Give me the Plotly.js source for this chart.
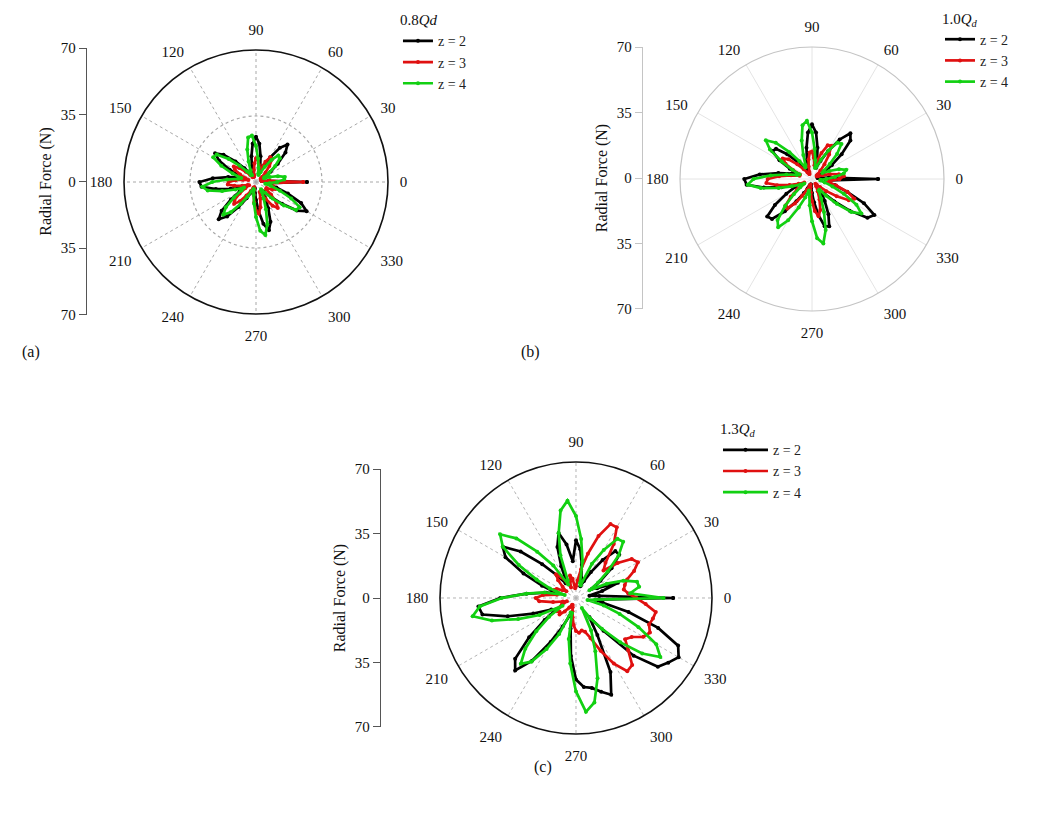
<!DOCTYPE html>
<html><head><meta charset="utf-8">
<script src="https://cdn.plot.ly/plotly-3.0.1.min.js"></script>
<style>html,body{margin:0;padding:0;background:#fff}#chart{width:1038px;height:822px}</style>
</head><body><div id="chart"></div>
<script>
// ---------- data ----------
const thetaDeg = [0,5,10,15,20,25,30,35,40,45,50,55,60,65,70,75,80,85,90,95,100,105,110,115,120,125,130,135,140,145,150,155,160,165,170,175,180,185,190,195,200,205,210,215,220,225,230,235,240,245,250,255,260,265,270,275,280,285,290,295,300,305,310,315,320,325,330,335,340,345,350,355];
const angularTicks = [0,30,60,90,120,150,180,210,240,270,300,330];
const sideTickVals = [-70,-35,0,35,70];
const sideTickText = ['70','35','0','35','70'];
const seriesNames = ['z = 2','z = 3','z = 4'];
const panelTitles = ['0.8<i>Qd</i>','1.0<i>Q<sub>d</sub></i>','1.3<i>Q<sub>d</sub></i>'];
const panelLabels = ['(a)','(b)','(c)'];
const sideTitle = 'Radial Force (N)';

// panel (a) 0.8Qd
const a_z2 = [27,7,3,3,3,4,5.7,9.4,15.1,22.1,26,22.1,15.1,9.4,5.7,8.6,13.9,20.4,24,20.4,13.9,8.6,5.3,3.4,3.7,5.8,9.5,15.4,22.5,26.5,22.5,15.4,9.5,9.3,15,23,30,29,21.6,14,8.7,6.2,10,16.2,23.8,28,23.8,16.2,10,6.2,3.9,3,3.7,5.8,9.5,15.4,22.5,26.5,22.5,15.4,9.5,5.8,6.8,11.2,18,26.4,31,26.4,18,11.2,6.8,7];
const a_z3 = [25,7,3,3,3,3,3,3,4.2,7.1,11,14.8,15.2,11.8,7.7,5.9,9.1,12.2,12.6,9.8,6.4,3.9,3,3,3,3,4.8,7.7,11.6,14.4,13,9.3,5.8,4.2,7,10.9,14.6,15,11.6,7.6,4.7,4,6.6,10.6,15,16.4,13.3,8.8,5.5,3.3,3,4.1,6.8,10.9,15.3,16.8,13.6,9,5.6,6.5,10.4,15.3,18,15.3,10.4,6.5,6.4,9.4,11,9.4,6.4,7];
const a_z4 = [11.2,15,15.5,12,7.8,4.8,5.1,8.6,13.3,17.9,18.4,14.3,9.3,5.7,4,4.6,7.7,12.5,19.1,24.7,24,17.9,11.5,6.9,4.3,4.6,7.3,12.2,18.9,25.4,26.2,20.3,13.2,8.1,9.6,15.4,23.2,28.6,26,18.6,11.6,7,8.9,14.3,20.9,24.6,20.9,14.3,8.9,5.4,4,4.4,7,11.6,18.6,26,28.6,23.2,15.4,9.6,5.8,4.7,7.4,12.4,19.3,25.9,26.7,20.6,13.5,8.3,5,7.2];

// panel (b) 1.0Qd
const b_z2 = [35,9,3,3,3.2,4.8,7.7,12.8,20.5,28.8,31.7,25.6,17,10.6,6.4,10.4,16.8,24.7,29,24.7,16.8,10.4,6.4,4.1,4.5,7.2,11.9,18.6,24.9,25.7,19.9,13,8,11.1,18.1,27.8,35.9,34.8,25.9,16.7,10,9.6,15.7,24,31,30,22.4,14.4,8.6,5.4,3.5,3,3,4.7,7.4,12.4,19.3,25.9,26.7,20.6,13.5,8.3,10.1,16.8,26.1,35.9,38.2,30.4,19.9,12.5,7.4,9];
const b_z3 = [14.5,17,14.5,9.9,6.1,3.7,3,3,3.8,6.3,10.3,15.8,20.4,19.7,14.7,9.5,7.4,11.3,14.6,14.1,10.5,6.8,4,3,3,4.2,6.8,11,16.2,19,16.2,11,6.8,6.8,11.3,17.5,23.5,24.3,18.8,12.3,7.5,4.5,5.7,9.5,14.7,19.7,20.4,15.8,10.3,6.3,3.8,3,4.4,7.2,11.6,17,20,17,11.6,7.2,4.4,3,3.8,6,10,16,22.5,24.8,20,13.3,8.3,9.9];
const b_z4 = [7.6,12.2,17.1,18.8,15.2,10.1,6.3,7.5,12.3,18.8,24.3,23.5,17.5,11.3,6.8,6,10.1,16.1,24.6,31,29,21.1,13.5,8.2,7,11.5,18.6,27.2,32,27.2,18.6,11.5,7,8.3,13.8,22,31,34.2,27.6,18.3,11.4,6.9,4.7,7.6,12.6,20.2,28.4,31.3,25.3,16.7,10.4,6.3,8.4,14,22.4,31.5,34.7,28,18.6,11.6,7,7,11.5,18.6,27.2,32,27.2,18.6,11.5,7,4.5,4.6];

// panel (c) 1.3Qd
const c_z2 = [50,12,7,14,23,12,9.5,15.4,23.9,31.5,31.5,23.9,15.4,9.5,6.5,10.7,17.2,25.2,29.7,19,28,34.6,28,18,10,9.3,15.3,24.6,37.2,46,41.9,29.8,18.6,11.2,15.6,25.5,39,50.4,48.9,36.4,23.4,14,11.8,19.7,31.5,44.3,48.7,39.4,26.1,16.2,9.8,8,16,30,42,46,47,50,53,42,22,12,22,42,55,58,61,58,45,28,14,10];
const c_z3 = [31,27,25,26,28,33,36.8,35,28,20,23.6,33.9,42,42,33.9,23.6,15,9.1,6,5,10,12,9,6,9,13,16,13,9,6,8,11,12,9,10,17,20.7,19,12,7,5,8,11,12,11,12,9,6,4,4,5,7,10,14,17,18,17,18,22,30,39,46,45,38,33,35,40,42,40,41,41.7,36];
const c_z4 = [45,28,33,32.5,26,17.5,8,13.9,21.3,31,37.8,37.2,28.6,19.4,7,8,19.3,30.5,42.2,50.3,45.7,34.5,23.4,10,8,20.4,31.1,43.4,51,46,34,22.4,14.3,6,16.4,25.7,38.2,49.7,54,44.8,31.7,20.7,8,16.9,26.7,36.9,44.2,40,30.3,20.5,8,8,21.4,33.9,48.1,58.8,54.6,42.8,29.1,18.4,6,12.7,20.7,32.3,44.5,53,47.7,35.5,23.9,14.8,6,10];

const panelSeries = [[a_z2,a_z3,a_z4],[b_z2,b_z3,b_z4],[c_z2,c_z3,c_z4]];

// ---------- styling ----------
const FONT = 'Liberation Serif';
const colors = ['#000000','#e01010','#12d012'];
const polarIds = ['polar','polar2','polar3'];
const legendIds = ['legend','legend2','legend3'];
const xIds = ['x','x2','x3'];
const yIds = ['y','y2','y3'];

const data = [];
// invisible carriers so that each side "Radial Force" axis is drawn
panelSeries.forEach((ser, p) => {
  data.push({type: 'scatter', xaxis: xIds[p], yaxis: yIds[p], x: sideTickVals.map(() => 0), y: sideTickVals,
    mode: 'none', showlegend: false, hoverinfo: 'skip'});
});
panelSeries.forEach((ser, p) => {
  ser.forEach((r, s) => {
    data.push({
      type: 'scatterpolar',
      subplot: polarIds[p],
      legend: legendIds[p],
      name: seriesNames[s],
      theta: thetaDeg.concat([thetaDeg[0] + 360]),
      r: r.concat([r[0]]),
      mode: 'lines+markers',
      line: {color: colors[s], width: 2.7},
      marker: {color: colors[s], size: 4},
      hoverinfo: 'skip'
    });
  });
});

function polarLayout(dx, dy, st) {
  return {
    domain: {x: dx, y: dy},
    bgcolor: 'white',
    radialaxis: {range: [0,70], showticklabels: false, ticks: '', showline: false,
      tickmode: 'array', tickvals: st.ring ? [35] : [], showgrid: st.ring,
      gridcolor: '#a8a8a8', griddash: 'dot', gridwidth: 1.2},
    angularaxis: {tickmode: 'array', tickvals: angularTicks, ticktext: angularTicks.map(String),
      direction: 'counterclockwise', rotation: 0, thetaunit: 'degrees',
      showline: true, linecolor: st.line, linewidth: st.lw,
      showgrid: true, gridcolor: st.grid, griddash: st.dash, gridwidth: 1,
      ticks: 'outside', ticklen: 8, tickcolor: 'rgba(0,0,0,0)',
      tickfont: {family: FONT, size: 15, color: '#111'}}
  };
}
function sideAxis(dy, col, anchor) {
  return {domain: dy, anchor: anchor, range: [-70,70], tickmode: 'array',
    tickvals: sideTickVals, ticktext: sideTickText, showline: true, linecolor: col, linewidth: 1.3,
    ticks: 'outside', ticklen: 7, tickcolor: col, showgrid: false, zeroline: false, fixedrange: true,
    tickfont: {family: FONT, size: 15, color: '#111'},
    title: {text: sideTitle, font: {family: FONT, size: 16, color: '#111'}, standoff: 5},
    automargin: false};
}
function hiddenX(dx, anchor) {
  return {domain: dx, anchor: anchor, visible: false, fixedrange: true, range: [-1, 1]};
}
function legendLayout(x, y, title, iw) {
  return {x: x, y: y, xanchor: 'left', yanchor: 'top', bgcolor: 'rgba(0,0,0,0)',
    font: {family: FONT, size: 14, color: '#222'}, itemwidth: iw, tracegroupgap: 0,
    title: {text: title, font: {family: FONT, size: 15, color: '#111'}}};
}

const layout = {
  width: 1038, height: 822,
  margin: {l: 0, r: 0, t: 0, b: 0},
  paper_bgcolor: 'white', plot_bgcolor: 'rgba(0,0,0,0)',
  showlegend: true,
  polar: polarLayout([0.11946,0.37380],[0.61800,0.93917], {ring: true, line: '#111', lw: 1.6, grid: '#a8a8a8', dash: 'dot'}),
  polar2: polarLayout([0.65511,0.90944],[0.62165,0.94282], {ring: false, line: '#c4c4c4', lw: 1.2, grid: '#e4e4e4', dash: 'solid'}),
  polar3: polarLayout([0.42389,0.68593],[0.10706,0.43796], {ring: false, line: '#111', lw: 1.6, grid: '#b4b4b4', dash: 'dot'}),
  xaxis: hiddenX([0.0838,0.09], 'y'),
  yaxis: sideAxis([0.6168,0.9416], '#555', 'x'),
  xaxis2: hiddenX([0.6195,0.625], 'y2'),
  yaxis2: sideAxis([0.6241,0.9428], '#c4c4c4', 'x2'),
  xaxis3: hiddenX([0.3671,0.373], 'y3'),
  yaxis3: sideAxis([0.1156,0.4294], '#555', 'x3'),
  legend: legendLayout(0.3834, 0.993, panelTitles[0], 30),
  legend2: legendLayout(0.9056, 0.995, panelTitles[1], 30),
  legend3: legendLayout(0.6917, 0.4955, panelTitles[2], 45),
  annotations: [
    {text: panelLabels[0], xref: 'paper', yref: 'paper', x: 20/1038, y: 1-352/822, showarrow: false, font: {family: FONT, size: 16, color: '#111'}},
    {text: panelLabels[1], xref: 'paper', yref: 'paper', x: 530/1038, y: 1-352/822, showarrow: false, font: {family: FONT, size: 16, color: '#111'}},
    {text: panelLabels[2], xref: 'paper', yref: 'paper', x: 543/1038, y: 1-778/822, showarrow: false, font: {family: FONT, size: 16, color: '#111'}}
  ]
};

Plotly.newPlot('chart', data, layout, {displayModeBar: false, staticPlot: true});
</script></body></html>
